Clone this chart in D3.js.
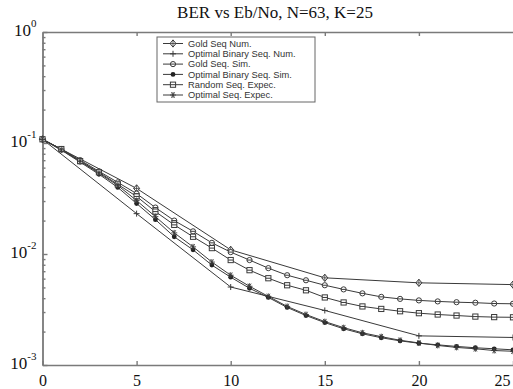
<!DOCTYPE html>
<html>
<head>
<meta charset="utf-8">
<script src="https://cdn.jsdelivr.net/npm/d3@7"></script>
<style>
  body { margin: 0; background: #fff; }
  svg { display: block; }
</style>
</head>
<body>
<svg id="chart" width="513" height="389"></svg>
<script>
// Eb/No grids
const ebnoSim = d3.range(0, 26);
const ebnoNum = [0, 5, 10, 15, 20, 25];

// BER values
const goldNum = [0.108, 0.039, 0.0109, 0.0061, 0.0055, 0.0053];
const optBinNum = [0.108, 0.0231, 0.00504, 0.0031, 0.00183, 0.00177];
const goldSim = [0.108, 0.0882, 0.0701, 0.0556, 0.0442, 0.035, 0.0262, 0.0200, 0.0160, 0.0126,
  0.0104, 0.00882, 0.00746, 0.00644, 0.0058, 0.00523, 0.0048, 0.00442, 0.00411, 0.00394,
  0.00382, 0.00374, 0.00368, 0.00364, 0.00358, 0.00356];
const optBinSim = [0.108, 0.0864, 0.0672, 0.0523, 0.0398, 0.0285, 0.0204, 0.0143, 0.0109, 0.00794,
  0.00618, 0.00491, 0.00406, 0.0033, 0.00279, 0.00241, 0.00212, 0.00191, 0.00176, 0.00165,
  0.00157, 0.00152, 0.00147, 0.00143, 0.0014, 0.00137];
const randomExp = [0.108, 0.0882, 0.0686, 0.0545, 0.0424, 0.033, 0.0241, 0.0183, 0.0143, 0.0113,
  0.00882, 0.00715, 0.00605, 0.00523, 0.00471, 0.00406, 0.00366, 0.00337, 0.0032, 0.00305,
  0.00293, 0.00285, 0.00279, 0.00273, 0.0027, 0.00269];
const optSeqExp = [0.108, 0.0864, 0.0686, 0.0534, 0.0415, 0.0303, 0.0217, 0.0155, 0.0116, 0.00846,
  0.00644, 0.00512, 0.00415, 0.00337, 0.00285, 0.00246, 0.00217, 0.00195, 0.0018, 0.00167,
  0.00158, 0.0015, 0.00144, 0.0014, 0.00135, 0.00133];

const legendNames = ["Gold Seq Num.", "Optimal Binary Seq. Num.", "Gold Seq. Sim.",
  "Optimal Binary Seq. Sim.", "Random Seq. Expec.", "Optimal Seq. Expec."];
const xTicks = [0, 5, 10, 15, 20, 25];
const yTicks = [1, 0.1, 0.01, 0.001];
const yTickExp = ["0", "-1", "-2", "-3"];

const series = [
  { xs: ebnoNum, ys: goldNum, marker: "diamond" },
  { xs: ebnoNum, ys: optBinNum, marker: "plus" },
  { xs: ebnoSim, ys: goldSim, marker: "circle" },
  { xs: ebnoSim, ys: optBinSim, marker: "dot" },
  { xs: ebnoSim, ys: randomExp, marker: "square" },
  { xs: ebnoSim, ys: optSeqExp, marker: "star" },
];

const ink = "#3a3a3a";
const frame = "#7a7a7a";
const svg = d3.select("#chart");

const x = d3.scaleLinear().domain([0, 25]).range([42.5, 513]);
const y = d3.scaleLog().domain([0.001, 1]).range([365, 32]);

// axes
const xAxis = svg.append("g")
  .attr("transform", `translate(0,${y(0.001)})`)
  .call(d3.axisBottom(x).tickValues(xTicks).tickSizeInner(-4).tickSizeOuter(0).tickPadding(10));
xAxis.selectAll("text")
  .attr("font-family", "Liberation Serif, Times New Roman, serif")
  .attr("font-size", 16).attr("fill", "#111")
  .filter(d => d === 25).attr("text-anchor", "end").attr("dx", -3);

svg.append("g")
  .attr("transform", `translate(0,${y(1)})`)
  .call(d3.axisTop(x).tickValues([5, 10, 15, 20]).tickSizeInner(-4).tickSizeOuter(0).tickFormat(""));

const minors = [];
[0.001, 0.01, 0.1].forEach(b => d3.range(2, 10).forEach(k => minors.push(b * k)));
svg.append("g")
  .attr("transform", `translate(${x(0)},0)`)
  .call(d3.axisLeft(y).tickValues(minors).tickSizeInner(-3).tickSizeOuter(0).tickFormat(""));

const yAxis = svg.append("g")
  .attr("transform", `translate(${x(0)},0)`)
  .call(d3.axisLeft(y).tickValues(yTicks).tickSizeInner(-5).tickSizeOuter(0).tickPadding(6));
yAxis.selectAll("text").each(function (d, i) {
  const t = d3.select(this).text("")
    .attr("font-family", "Liberation Serif, Times New Roman, serif")
    .attr("fill", "#111");
  t.append("tspan").attr("font-size", 17).text("10");
  t.append("tspan").attr("font-size", 11).attr("dy", "-0.75em").text(yTickExp[i]);
});

svg.selectAll(".domain, .tick line").attr("stroke", frame).attr("stroke-width", 1.4);

// title
svg.append("text")
  .attr("x", 275).attr("y", 18)
  .attr("text-anchor", "middle")
  .attr("font-family", "Liberation Serif, Times New Roman, serif")
  .attr("font-size", 17).attr("fill", "#111")
  .text("BER vs Eb/No, N=63, K=25");

// markers
function drawMarker(g, type) {
  if (type === "circle") {
    g.append("circle").attr("r", 2.6).attr("fill", "#fff").attr("stroke", ink).attr("stroke-width", 1);
    g.append("path").attr("d", "M-2.6,0H2.6").attr("stroke", ink);
  } else if (type === "dot") {
    g.append("circle").attr("r", 2.4).attr("fill", "#222");
  } else if (type === "square") {
    g.append("rect").attr("x", -2.6).attr("y", -2.6).attr("width", 5.2).attr("height", 5.2)
      .attr("fill", "#fff").attr("stroke", ink).attr("stroke-width", 1);
    g.append("path").attr("d", "M-2.6,0H2.6").attr("stroke", ink);
  } else if (type === "diamond") {
    g.append("path").attr("d", "M0,-3.6L3,0L0,3.6L-3,0Z")
      .attr("fill", "#fff").attr("stroke", ink).attr("stroke-width", 1);
    g.append("path").attr("d", "M0,-3.6V3.6M-3,0H3").attr("stroke", ink).attr("stroke-width", 0.8);
  } else if (type === "plus") {
    g.append("path").attr("d", "M-3,0H3M0,-3V3").attr("stroke", ink).attr("stroke-width", 1);
  } else if (type === "star") {
    g.append("path").attr("d", "M-3,0H3M-1.6,-2.7L1.6,2.7M-1.6,2.7L1.6,-2.7M0,-3V3")
      .attr("stroke", ink).attr("stroke-width", 0.9);
  }
}

const line = d3.line().x(d => x(d[0])).y(d => y(d[1]));
const plot = svg.append("g");
series.forEach(s => {
  const pts = s.xs.map((v, i) => [v, s.ys[i]]);
  plot.append("path").datum(pts)
    .attr("d", line).attr("fill", "none")
    .attr("stroke", ink).attr("stroke-width", 1);
});
series.forEach(s => {
  s.xs.forEach((v, i) => {
    const g = plot.append("g").attr("transform", `translate(${x(v)},${y(s.ys[i])})`);
    drawMarker(g, s.marker);
  });
});

// legend
const leg = svg.append("g");
leg.append("rect")
  .attr("x", 157).attr("y", 37).attr("width", 158).attr("height", 65)
  .attr("fill", "#fff").attr("stroke", "#666").attr("stroke-width", 1);
legendNames.forEach((name, i) => {
  const ry = 43.5 + i * 10.3;
  leg.append("path").attr("d", `M163,${ry}H183`).attr("stroke", ink).attr("stroke-width", 1);
  drawMarker(leg.append("g").attr("transform", `translate(173,${ry})`), series[i].marker);
  leg.append("text")
    .attr("x", 188).attr("y", ry + 3.3)
    .attr("font-family", "Liberation Sans, Arial, sans-serif")
    .attr("font-size", 9.3).attr("fill", "#333")
    .text(name);
});
</script>
</body>
</html>
